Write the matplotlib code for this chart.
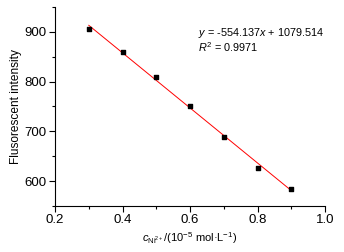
import matplotlib
matplotlib.use('Agg')
import matplotlib.pyplot as plt
import numpy as np
from matplotlib.ticker import MultipleLocator

plt.rcParams['font.family'] = 'Liberation Sans'
plt.rcParams['mathtext.fontset'] = 'custom'
plt.rcParams['mathtext.rm'] = 'Liberation Sans'
plt.rcParams['mathtext.it'] = 'Liberation Sans:italic'

# nồng độ Ni2+ (10^-5 mol/L) và cường độ huỳnh quang
conc = [0.3, 0.4, 0.5, 0.6, 0.7, 0.8, 0.9]
intensity = [906, 860, 810, 751, 689, 626, 583]

# hệ số hồi quy tuyến tính
slope = -554.137
intercept = 1079.514
r2 = 0.9971

fig = plt.figure(figsize=(3.44, 2.52), dpi=100)
ax = fig.add_axes([0.16, 0.183, 0.785, 0.789])

x_fit = np.array([conc[0], conc[-1]])
ax.plot(x_fit, slope * x_fit + intercept, color='red', lw=0.7, zorder=2)
ax.scatter(conc, intensity, marker='s', s=12, color='black', zorder=3)

ax.set_xlim(0.2, 1.0)
ax.set_ylim(550, 950)
ax.xaxis.set_major_locator(MultipleLocator(0.2))
ax.xaxis.set_minor_locator(MultipleLocator(0.1))
ax.yaxis.set_major_locator(MultipleLocator(100))
ax.yaxis.set_minor_locator(MultipleLocator(50))
ax.tick_params(which='major', direction='out', length=4, width=0.8, labelsize=9.5, pad=2)
ax.tick_params(which='minor', direction='out', length=2.5, width=0.8)
ax.spines['top'].set_visible(False)
ax.spines['right'].set_visible(False)

ax.set_ylabel('Flusorescent intensity', fontsize=8.6, labelpad=2)
ax.set_xlabel(r'$c_{\mathrm{Ni^{2+}}}$/(10$^{-5}$ mol·L$^{-1}$)', fontsize=8, labelpad=3)

# phương trình hồi quy (một khối chữ hai dòng)
eq = r'$y$ = %.3f$x$ + %.3f' % (slope, intercept) + '\n' + r'$R^2$ = %.4f' % r2
ax.text(0.53, 0.905, eq, transform=ax.transAxes, fontsize=7.8, va='top', linespacing=1.05)

fig.savefig('out.png', dpi=100)
